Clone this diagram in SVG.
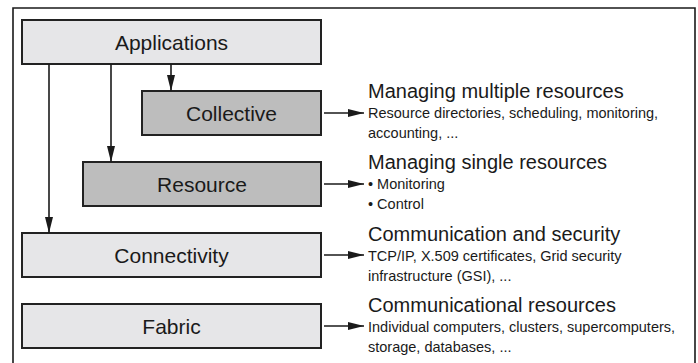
<svg xmlns="http://www.w3.org/2000/svg" width="698" height="363" viewBox="0 0 698 363">
<defs>
<marker id="ah" viewBox="0 0 16 8" refX="16" refY="4" markerWidth="16" markerHeight="8" markerUnits="userSpaceOnUse" orient="auto">
<path d="M0,0 L16,4 L0,8 Z" fill="#1a1a1a"/>
</marker>
<style>
.lt{fill:#e6e6e8;stroke:#222;stroke-width:2}
.dk{fill:#bdbdbd;stroke:#222;stroke-width:2}
.lbl{font-family:"Liberation Sans",Arial,sans-serif;font-size:21px;fill:#1a1a1a;text-anchor:middle}
.hd{font-family:"Liberation Sans",Arial,sans-serif;font-size:20px;fill:#1a1a1a}
.sb{font-family:"Liberation Sans",Arial,sans-serif;font-size:14.5px;fill:#1a1a1a}
.cn{stroke:#1a1a1a;stroke-width:1.6;fill:none;marker-end:url(#ah)}
</style>
</defs>
<rect x="0" y="0" width="698" height="363" fill="#fff"/>
<path d="M13,370 L13,8 L695,8 L695,370" fill="none" stroke="#1a1a1a" stroke-width="1.6"/>
<g id="applications"><rect class="lt" x="22" y="20" width="299" height="44"/><text class="lbl" x="171.5" y="49.5">Applications</text></g>
<g id="collective"><rect class="dk" x="142" y="91" width="179" height="44"/><text class="lbl" x="231.5" y="120.5">Collective</text></g>
<g id="resource"><rect class="dk" x="83" y="162" width="238" height="44"/><text class="lbl" x="202" y="191.5">Resource</text></g>
<g id="connectivity"><rect class="lt" x="22" y="233" width="299" height="44"/><text class="lbl" x="171.5" y="262.5">Connectivity</text></g>
<g id="fabric"><rect class="lt" x="22" y="304" width="299" height="44"/><text class="lbl" x="171.5" y="333.5">Fabric</text></g>
<g id="desc-collective"><text class="hd" x="368" y="98">Managing multiple resources</text><text class="sb" x="368" y="118">Resource directories, scheduling, monitoring,</text><text class="sb" x="368" y="138">accounting, ...</text></g>
<g id="desc-resource"><text class="hd" x="368" y="169">Managing single resources</text><text class="sb" x="368" y="189">• Monitoring</text><text class="sb" x="368" y="209">• Control</text></g>
<g id="desc-connectivity"><text class="hd" x="368" y="241">Communication and security</text><text class="sb" x="368" y="261">TCP/IP, X.509 certificates, Grid security</text><text class="sb" x="368" y="281">infrastructure (GSI), ...</text></g>
<g id="desc-fabric"><text class="hd" x="368" y="312">Communicational resources</text><text class="sb" x="368" y="332">Individual computers, clusters, supercomputers,</text><text class="sb" x="368" y="352">storage, databases, ...</text></g>
<g id="connectors">
<line class="cn" x1="171" y1="64" x2="171" y2="91"/>
<line class="cn" x1="111" y1="64" x2="111" y2="162"/>
<line class="cn" x1="49" y1="64" x2="49" y2="233"/>
<line class="cn" x1="324" y1="113" x2="364" y2="113"/>
<line class="cn" x1="324" y1="184" x2="364" y2="184"/>
<line class="cn" x1="324" y1="255" x2="364" y2="255"/>
<line class="cn" x1="324" y1="326" x2="364" y2="326"/>
</g>
</svg>
